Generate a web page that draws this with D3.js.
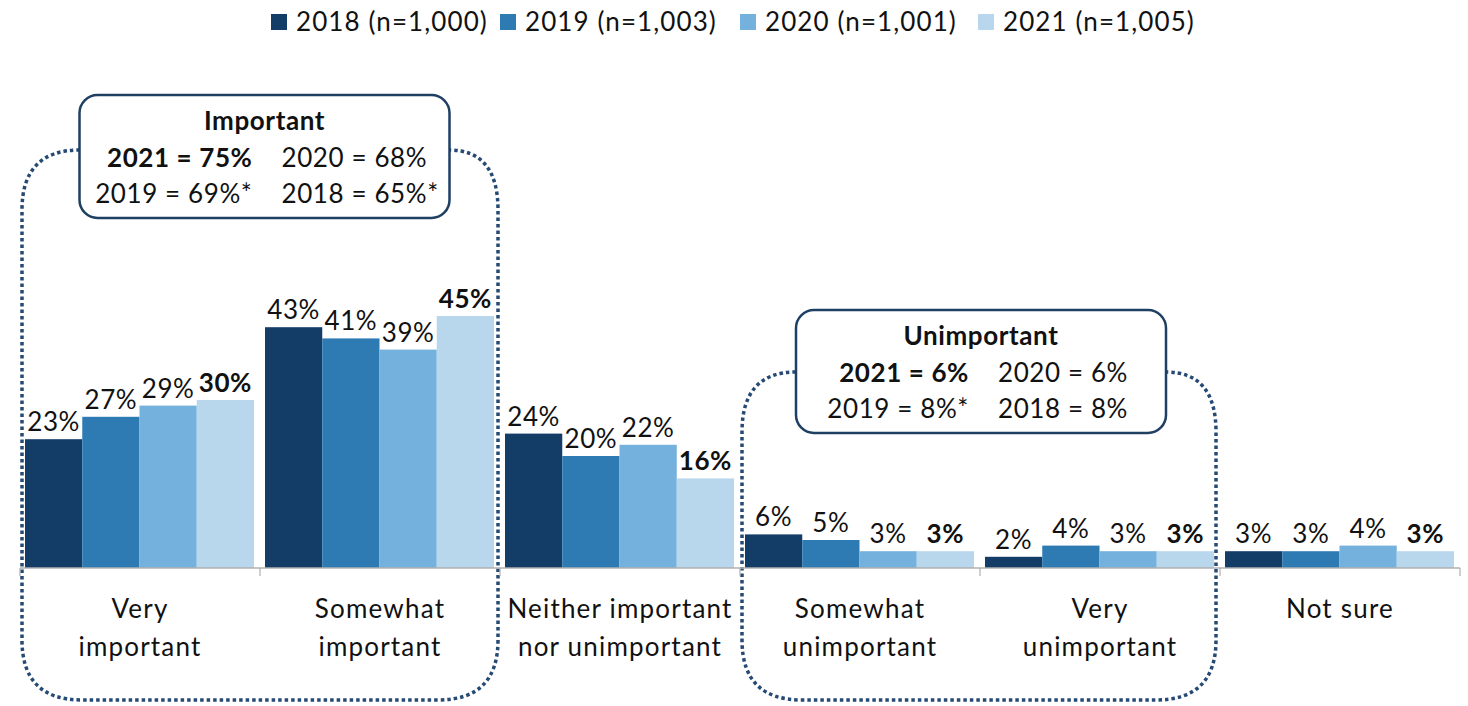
<html>
<head>
<script src="https://d3js.org/d3.v7.min.js"></script>
<style>
  body { margin: 0; background: #fff; }
  text { font-family: Lato, "Open Sans", sans-serif; fill: #111; letter-spacing: 0.6px; }
</style>
</head>
<body>
<svg id="chart" width="1468" height="706"></svg>
<script>
const categories = [["Very", "important"], ["Somewhat", "important"], ["Neither important", "nor unimportant"],
                    ["Somewhat", "unimportant"], ["Very", "unimportant"], ["Not sure"]];
const seriesNames = ["2018 (n=1,000)", "2019 (n=1,003)", "2020 (n=1,001)", "2021 (n=1,005)"];
const v2018 = [23, 43, 24, 6, 2, 3];
const v2019 = [27, 41, 20, 5, 4, 3];
const v2020 = [29, 39, 22, 3, 3, 4];
const v2021 = [30, 45, 16, 3, 3, 3];
const colors = ["#133c66", "#2e7bb4", "#74b1dc", "#b8d6ec"];

const importantLines = [["2021 = 75%", "2020 = 68%"], ["2019 = 69%*", "2018 = 65%*"]];
const unimportantLines = [["2021 = 6%", "2020 = 6%"], ["2019 = 8%*", "2018 = 8%"]];

const series = [v2018, v2019, v2020, v2021];
const svg = d3.select("svg#chart");
const baseY = 568;

const x0 = d3.scaleBand().domain(d3.range(categories.length)).range([20, 1460]).padding(0);
const x1 = d3.scaleBand().domain(d3.range(series.length)).range([5, x0.bandwidth() - 6]).padding(0);
const y = d3.scaleLinear().domain([0, 45]).range([baseY, baseY - 252]);

// dotted groupings (drawn first so callout boxes cover them)
const dotted = svg.append("g").attr("fill", "none").attr("stroke", "#264a73")
  .attr("stroke-width", 3.5).attr("stroke-dasharray", "3.5,3");

function groupPath(left, right, top, bottom, boxL, boxR) {
  const r = 60;
  const p = d3.path();
  p.moveTo(boxL, top);
  p.quadraticCurveTo(left, top, left, top + r);
  p.lineTo(left, bottom - r);
  p.quadraticCurveTo(left, bottom, left + r, bottom);
  p.lineTo(right - r, bottom);
  p.quadraticCurveTo(right, bottom, right, bottom - r);
  p.lineTo(right, top + r);
  p.quadraticCurveTo(right, top, boxR, top);
  return p.toString();
}

dotted.append("path").attr("d", groupPath(x0(0) + 2, x0(1) + x0.bandwidth() - 2, 150, 700, 80, 449));
dotted.append("path").attr("d", groupPath(x0(3) + 2, x0(4) + x0.bandwidth() - 4, 372, 700, 796, 1166));

// bars
const groups = svg.append("g").selectAll("g").data(categories).join("g")
  .attr("transform", (d, i) => `translate(${x0(i)},0)`);

groups.selectAll("rect").data((d, i) => series.map((s, j) => ({ v: s[i], j })))
  .join("rect")
  .attr("x", d => x1(d.j)).attr("width", x1.bandwidth())
  .attr("y", d => y(d.v)).attr("height", d => baseY - y(d.v))
  .attr("fill", d => colors[d.j]);

groups.selectAll("text.val").data((d, i) => series.map((s, j) => ({ v: s[i], j })))
  .join("text").attr("class", "val")
  .attr("x", d => x1(d.j) + x1.bandwidth() / 2)
  .attr("y", d => y(d.v) - 8)
  .attr("text-anchor", "middle")
  .attr("font-size", 26)
  .attr("font-weight", d => d.j === 3 ? "bold" : "normal")
  .text(d => d.v + "%");

// axis
svg.append("line").attr("x1", x0.range()[0]).attr("x2", x0.range()[1])
  .attr("y1", baseY).attr("y2", baseY).attr("stroke", "#b0b0b0").attr("stroke-width", 1.5);
svg.append("g").selectAll("line").data(d3.range(categories.length + 1)).join("line")
  .attr("x1", i => 20 + i * x0.bandwidth()).attr("x2", i => 20 + i * x0.bandwidth())
  .attr("y1", baseY).attr("y2", baseY + 8).attr("stroke", "#b0b0b0").attr("stroke-width", 1.2);

groups.append("text").attr("text-anchor", "middle").attr("font-size", 26)
  .attr("x", x0.bandwidth() / 2)
  .style("letter-spacing", "1.2px")
  .selectAll("tspan").data(d => d).join("tspan")
  .attr("x", x0.bandwidth() / 2)
  .attr("y", (d, k) => 618 + k * 38)
  .text(d => d);

// legend
const legendX = [271, 500, 740, 978];
const legend = svg.append("g").selectAll("g").data(seriesNames).join("g")
  .attr("transform", (d, i) => `translate(${legendX[i]},14)`);
legend.append("rect").attr("width", 16).attr("height", 16).attr("fill", (d, i) => colors[i]);
legend.append("text").attr("x", 25).attr("y", 17).attr("font-size", 26)
  .style("letter-spacing", "1.1px").text(d => d);

// callout boxes
function callout(cx, top, title, lines) {
  const g = svg.append("g");
  g.append("rect").attr("x", cx - 185).attr("y", top).attr("width", 370).attr("height", 123)
    .attr("rx", 18).attr("fill", "#fff").attr("stroke", "#1f3f63").attr("stroke-width", 2.5);
  g.append("text").attr("x", cx).attr("y", top + 35).attr("text-anchor", "middle")
    .attr("font-size", 26).attr("font-weight", "bold").text(title);
  lines.forEach((ln, k) => {
    g.append("text").attr("x", cx - 12).attr("y", top + 72 + k * 36).attr("text-anchor", "end")
      .attr("font-size", 26).attr("font-weight", k === 0 ? "bold" : "normal").text(ln[0]);
    g.append("text").attr("x", cx + 17).attr("y", top + 72 + k * 36).attr("text-anchor", "start")
      .attr("font-size", 26).text(ln[1]);
  });
}
callout(264.5, 95, "Important", importantLines);
callout(981, 310, "Unimportant", unimportantLines);
</script>
</body>
</html>
